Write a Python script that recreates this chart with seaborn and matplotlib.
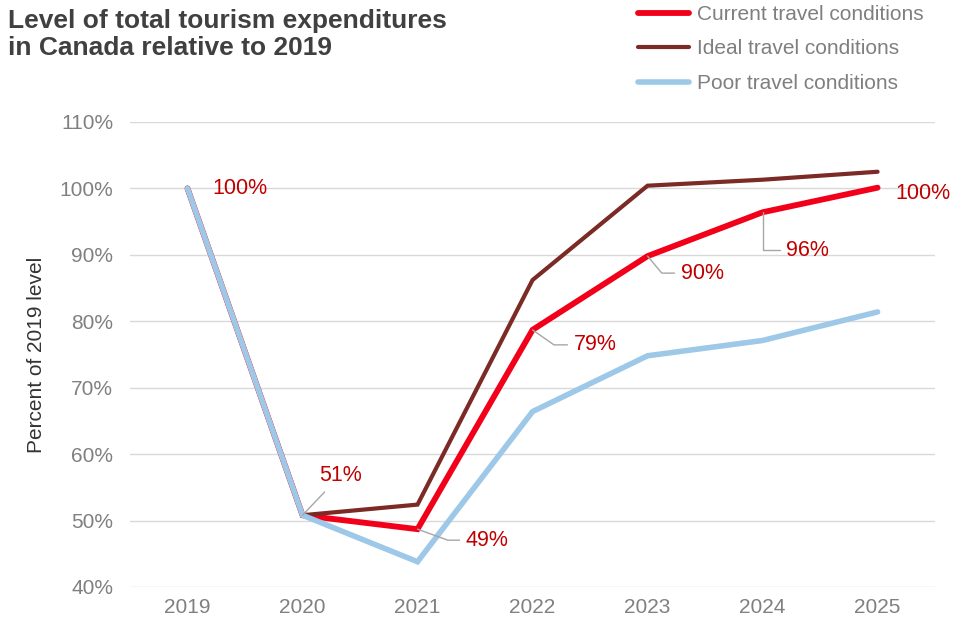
import pandas as pd
import matplotlib
matplotlib.use("Agg")
import matplotlib.pyplot as plt
import seaborn as sns

years = ["2019", "2020", "2021", "2022", "2023", "2024", "2025"]
current = [100, 50.8, 48.7, 78.7, 89.8, 96.4, 100.1]
ideal = [100, 50.8, 52.4, 86.2, 100.4, 101.3, 102.5]
poor = [100, 50.8, 43.8, 66.4, 74.8, 77.1, 81.4]
series_names = ["Current travel conditions", "Ideal travel conditions", "Poor travel conditions"]
labels = ["100%", "51%", "49%", "79%", "90%", "96%", "100%"]

colors = {"Current travel conditions": "#F20019",
          "Ideal travel conditions": "#7B2A26",
          "Poor travel conditions": "#9DC8E8"}
widths = {"Current travel conditions": 4.2,
          "Ideal travel conditions": 3.0,
          "Poor travel conditions": 4.0}

rows = []
for name, vals in zip(series_names, [current, ideal, poor]):
    for y, v in zip(years, vals):
        rows.append((y, v, name))
df = pd.DataFrame(rows, columns=["year", "value", "scenario"])

sns.set_style("white")
plt.rcParams["font.family"] = ["Liberation Sans", "DejaVu Sans"]

fig = plt.figure(figsize=(9.65, 6.22), dpi=100)
ax = fig.add_axes([0.1347, 0.0563, 0.8343, 0.7477])

for name in series_names:
    sub = df[df["scenario"] == name]
    sns.lineplot(data=sub, x="year", y="value", ax=ax, color=colors[name],
                 lw=widths[name], label=name, sort=False,
                 solid_joinstyle="miter", solid_capstyle="round", legend=False)

ax.set_xlim(-0.5, 6.5)
ax.set_ylim(40, 110)
ax.set_yticks(range(40, 111, 10))
ax.set_yticklabels([f"{t}%" for t in range(40, 111, 10)])
ax.grid(axis="y", color="#D9D9D9", lw=1)
ax.set_axisbelow(True)
for s in ax.spines.values():
    s.set_visible(False)
ax.tick_params(axis="both", length=0, labelsize=15, colors="#808080", pad=8)
ax.tick_params(axis="y", pad=12)
ax.set_xlabel("")
ax.set_ylabel("Percent of 2019 level", fontsize=15, color="#333333", labelpad=10)

# data labels for current conditions
lab_col = "#C00000"
gray = "#A6A6A6"
ann = dict(color=lab_col, fontsize=15.5, textcoords="offset pixels")
ax.annotate(labels[0], (0, current[0]), xytext=(25, 0), ha="left", va="center", **ann)
ax.annotate(labels[1], (1, current[1]), xytext=(38, 40), ha="center", va="center",
            arrowprops=dict(arrowstyle="-", color=gray, lw=1, shrinkA=3, shrinkB=0), **ann)
ax.annotate(labels[2], (2, current[2]), xytext=(48, -11), ha="left", va="center",
            arrowprops=dict(arrowstyle="-", color=gray, lw=1, shrinkA=2, shrinkB=0,
                            connectionstyle="angle,angleA=0,angleB=-20,rad=0"), **ann)
ax.annotate(labels[3], (3, current[3]), xytext=(41, -15), ha="left", va="center",
            arrowprops=dict(arrowstyle="-", color=gray, lw=1, shrinkA=2, shrinkB=0,
                            connectionstyle="angle,angleA=0,angleB=-35,rad=0"), **ann)
ax.annotate(labels[4], (4, current[4]), xytext=(33, -17), ha="left", va="center",
            arrowprops=dict(arrowstyle="-", color=gray, lw=1, shrinkA=2, shrinkB=0,
                            connectionstyle="angle,angleA=0,angleB=-50,rad=0"), **ann)
ax.annotate(labels[5], (5, current[5]), xytext=(23, -38), ha="left", va="center",
            arrowprops=dict(arrowstyle="-", color=gray, lw=1, shrinkA=2, shrinkB=0,
                            connectionstyle="angle,angleA=0,angleB=90,rad=0"), **ann)
ax.annotate(labels[6], (6, current[6]), xytext=(18, -6), ha="left", va="center", **ann)

fig.text(0.008, 0.985, "Level of total tourism expenditures\nin Canada relative to 2019",
         fontsize=19, fontweight="bold", color="#404040", va="top", ha="left",
         linespacing=1.12)

handles, leg_labels = ax.get_legend_handles_labels()
leg = fig.legend(handles, leg_labels, loc="upper left", bbox_to_anchor=(0.642, 1.022),
                 frameon=False, fontsize=15, handlelength=2.45, handletextpad=0.35,
                 labelspacing=0.74)
for t in leg.get_texts():
    t.set_color("#7F7F7F")

fig.savefig("out.png", dpi=100)
